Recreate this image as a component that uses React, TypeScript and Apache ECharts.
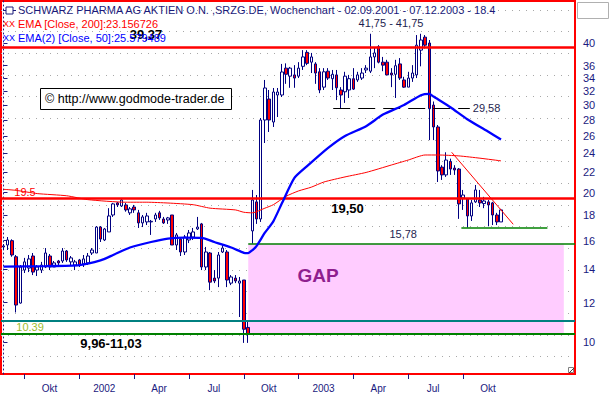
import React, { useEffect, useRef } from 'react';
import * as echarts from 'echarts';

// Weekly candles from 02.09.2001 to 07.12.2003 (week index 0..118)
const opens = [
  15.54, 15.68, 16.0, 14.85, 11.98, 13.96, 14.09, 14.9, 13.96, 13.96,
  14.16, 14.9, 14.16, 14.56, 14.56, 15.25, 14.5, 14.29, 14.63, 14.36,
  14.43, 15.11, 15.11, 17.04, 16.05, 16.66, 18.02, 19.06, 18.79, 18.88,
  18.2, 18.7, 18.2, 17.37, 17.45, 17.45, 17.69, 18.2, 17.69, 17.61,
  18.02, 15.68, 16.12, 15.18, 16.05, 16.27, 16.89, 17.29, 14.16, 15.11,
  13.45, 13.45, 15.18, 15.18, 13.14, 13.45, 13.14, 13.33, 10.7, 16.74,
  19.15, 17.69, 27.99, 30.85, 27.73, 31.43, 31.43, 35.6, 34.3, 34.5,
  34.3, 35.9, 38.3, 36.6, 36.3, 35.0, 32.6, 35.1, 33.9, 34.5,
  32.17, 31.9, 32.17, 33.9, 33.7, 34.0, 35.3, 35.1, 37.5, 39.3,
  36.6, 36.6, 34.8, 34.6, 36.3, 33.7, 32.6, 34.0, 34.5, 38.7,
  41.1, 40.0, 30.0, 27.1, 22.5, 21.7, 23.1, 22.4, 22.3, 19.5,
  19.4, 17.94, 19.15, 19.32, 19.0, 19.15, 19.06, 18.02, 17.45,
];
const closes = [
  15.61, 16.05, 14.97, 11.87, 14.16, 14.5, 14.7, 13.83, 14.16, 14.29,
  15.11, 14.16, 14.43, 14.43, 15.25, 14.63, 14.77, 14.5, 14.29, 14.7,
  14.9, 15.32, 17.04, 16.12, 16.89, 17.94, 18.97, 18.88, 19.32, 18.45,
  18.54, 18.45, 17.37, 17.86, 17.94, 17.5, 18.02, 17.78, 17.37, 17.78,
  15.68, 16.43, 15.18, 16.27, 16.58, 16.66, 17.04, 14.16, 15.18, 13.2,
  13.27, 14.97, 15.46, 13.33, 13.52, 13.27, 13.27, 10.61, 10.39, 19.32,
  17.69, 27.99, 32.47, 27.99, 31.87, 31.87, 34.97, 34.6, 35.6, 34.0,
  35.6, 37.5, 36.4, 37.5, 34.8, 32.17, 35.0, 34.0, 34.6, 32.5,
  31.43, 34.3, 33.9, 32.3, 34.5, 34.8, 35.6, 37.5, 38.2, 36.6,
  36.1, 34.5, 34.5, 36.0, 34.0, 32.6, 34.0, 34.8, 39.6, 40.56,
  39.6, 29.5, 27.1, 22.1, 21.7, 23.25, 22.3, 22.2, 18.97, 19.77,
  17.94, 19.06, 20.24, 19.06, 19.23, 18.88, 18.02, 17.45, 18.45,
];
const highs = [
  15.75, 16.27, 16.1, 14.97, 14.29, 14.77, 14.97, 15.11, 14.29, 14.5,
  15.46, 15.04, 14.56, 14.63, 15.46, 15.32, 14.9, 14.63, 14.7, 14.97,
  15.11, 15.46, 17.12, 17.12, 16.97, 18.6, 19.06, 19.15, 19.5, 19.06,
  18.7, 18.88, 18.45, 18.02, 18.2, 17.61, 18.2, 18.37, 17.86, 17.86,
  18.02, 16.58, 16.27, 16.43, 16.81, 16.97, 17.86, 17.37, 15.54, 15.18,
  13.96, 15.18, 15.68, 15.32, 13.64, 13.64, 13.52, 13.33, 11.03, 20.24,
  19.77, 28.25, 33.7, 32.17, 32.47, 32.47, 36.3, 36.4, 35.8, 36.1,
  36.6, 38.7, 38.7, 38.2, 36.6, 35.6, 35.6, 35.6, 35.3, 35.3,
  32.6, 35.0, 34.5, 35.6, 35.0, 35.6, 36.1, 41.75, 39.1, 39.6,
  37.5, 37.0, 35.6, 37.0, 37.3, 34.2, 35.0, 36.1, 41.5, 41.75,
  41.5, 40.56, 30.5, 27.35, 22.7, 24.1, 23.4, 22.7, 22.4, 20.24,
  19.5, 19.32, 20.71, 20.24, 19.6, 19.32, 19.15, 18.2, 18.54,
];
const lows = [
  15.32, 15.32, 14.85, 11.47, 11.95, 13.77, 13.83, 13.64, 13.58, 13.77,
  14.09, 13.96, 14.16, 14.29, 14.43, 14.5, 14.29, 13.96, 14.16, 14.16,
  14.29, 14.97, 15.11, 15.9, 15.97, 16.66, 17.86, 18.7, 18.7, 18.3,
  18.02, 18.2, 16.97, 17.04, 17.2, 16.43, 17.45, 17.61, 17.29, 17.29,
  15.68, 15.32, 14.9, 14.97, 15.82, 16.05, 16.81, 13.96, 13.96, 12.72,
  13.14, 12.9, 15.11, 12.9, 13.02, 13.14, 11.23, 9.96, 9.96, 15.78,
  17.29, 17.45, 25.16, 26.48, 27.1, 28.38, 31.14, 33.1, 32.5, 32.5,
  34.0, 35.3, 36.1, 34.8, 33.1, 31.7, 32.17, 33.7, 32.17, 30.7,
  29.58, 30.3, 31.0, 32.17, 33.4, 33.7, 34.8, 34.8, 35.6, 36.4,
  35.1, 34.5, 32.6, 31.0, 33.7, 32.5, 32.6, 33.4, 34.0, 35.9,
  39.0, 25.5, 25.5, 21.0, 21.2, 21.5, 21.7, 21.7, 17.7, 18.45,
  17.0, 17.53, 19.06, 18.7, 18.6, 17.1, 17.2, 17.2, 17.45,
];

// EMA readings [week index, value]
const ema200 = [
  [0, 20.3], [3, 20.2], [8, 19.9], [15, 19.7], [20, 19.35], [29, 19.12], [34, 19.12],
  [39, 19.05], [45, 18.9], [49, 18.6], [55, 18.45], [57, 18.25], [59, 18.2], [62, 18.6],
  [64, 18.9], [67, 19.65], [70, 20.15], [73, 20.5], [76, 21.0], [81, 21.5], [86, 21.95],
  [92, 22.72], [96, 23.25], [100, 23.8], [103, 23.8], [108, 23.7], [113, 23.45], [118, 23.16],
];
const ema50 = [
  [0, 14.19], [10, 14.22], [18, 14.29], [23, 14.6], [26, 14.97], [30, 15.5], [35, 15.9],
  [39, 16.15], [43, 16.22], [47, 16.2], [50, 15.9], [54, 15.5], [57, 15.12], [58, 15.1],
  [59, 15.3], [60, 15.6], [62, 16.6], [64, 17.5], [66, 19.0], [69, 21.4], [72, 22.6],
  [77, 24.6], [81, 26.0], [86, 27.2], [90, 28.7], [95, 30.0], [99, 31.4], [101, 31.6],
  [102, 31.2], [106, 29.7], [110, 28.1], [115, 26.5], [118, 25.58],
];

const yTickLabels = [40, 36, 34, 32, 30, 28, 26, 24, 22, 20, 18, 16, 14, 12, 10];
const xTickLabels = ['Okt', '2002', 'Apr', 'Jul', 'Okt', '2003', 'Apr', 'Jul', 'Okt'];
const quarterStartWeeks = [5, 18, 31, 44, 57, 70, 83, 96, 109];

// Levels
const resistance = 39.37;
const level1950 = 19.5;
const lowZoneTop = 11.03;
const lowZoneBottom = 10.39;
const gapTop = 15.78;
const gapBottom = 10.39;
const support = 17.0;
const neckline = 29.58;
const lastClose = 18.4;

const L = Math.log;
const NAVY = '#1a1a80';
const FONT = '"Liberation Sans", Arial, sans-serif';

export default function App() {
  const ref = useRef<HTMLDivElement>(null);
  useEffect(() => {
    const el = ref.current!;
    const chart = echarts.init(el, null, { renderer: 'svg' });
    const X_MIN = -0.593;
    const X_MAX = 135.55;
    const Y_MIN = 2.15434;
    const Y_MAX = 3.8836;
    const labelWeeks = quarterStartWeeks.map((w) => w + 5.9);
    const candleData = opens.map((o, i) => [i, L(o), L(closes[i]), L(lows[i]), L(highs[i])]);
    const txt = (name: string, x: number, v: number, style: any) => ({
      name,
      coord: [x, L(v)],
      label: { show: true, position: 'inside', formatter: '{b}', fontFamily: FONT, ...style },
    });

    const option: any = {
      animation: false,
      grid: [
        { left: 1, top: 1, width: 574, height: 373, show: true, borderColor: '#ff0000', borderWidth: 2, backgroundColor: 'transparent' },
        { left: 1, top: 10, width: 574, height: 346.7, show: false },
      ],
      xAxis: [
        {
          type: 'value', gridIndex: 0, min: X_MIN, max: X_MAX,
          axisLine: { show: false }, splitLine: { show: false },
          axisTick: { show: true, customValues: quarterStartWeeks, length: 5, lineStyle: { color: NAVY } },
          axisLabel: {
            customValues: labelWeeks, margin: 9, color: NAVY, fontSize: 10, fontFamily: FONT,
            formatter: (v: number) => {
              let best = 0;
              labelWeeks.forEach((w, k) => { if (Math.abs(w - v) < Math.abs(labelWeeks[best] - v)) best = k; });
              return xTickLabels[best];
            },
          },
        },
        { type: 'value', gridIndex: 1, min: 0, max: 1, show: false },
      ],
      yAxis: [
        {
          type: 'value', gridIndex: 0, position: 'right', min: Y_MIN, max: Y_MAX, offset: 3,
          axisLine: { show: true, lineStyle: { color: NAVY, type: [1, 3], width: 1 } },
          splitLine: { show: false },
          axisTick: { show: true, customValues: yTickLabels.map(L), length: 4, lineStyle: { color: NAVY } },
          axisLabel: {
            customValues: yTickLabels.map(L), margin: 5, color: NAVY, fontSize: 11, fontFamily: FONT,
            formatter: (v: number) => String(Math.round(Math.exp(v))),
          },
        },
        {
          type: 'value', gridIndex: 1, min: 0, max: 16, interval: 1, inverse: true,
          axisLine: { show: false }, axisTick: { show: false }, axisLabel: { show: false },
          splitLine: { show: true, lineStyle: { color: '#a8a8a8', type: [1, 6], width: 1 } },
        },
      ],
      series: [
        {
          type: 'line', xAxisIndex: 0, yAxisIndex: 0, data: [], z: 1, silent: true,
          markArea: {
            silent: true, itemStyle: { color: '#ffccff' },
            data: [[{ coord: [58.05, L(gapTop)] }, { coord: [132.9, L(gapBottom)] }]],
          },
        },
        {
          type: 'candlestick', xAxisIndex: 0, yAxisIndex: 0,
          dimensions: ['week', 'open', 'close', 'lowest', 'highest'],
          encode: { x: 0, y: [1, 2, 3, 4] },
          data: candleData, barWidth: 3, z: 3,
          itemStyle: { color: '#ffffff', color0: '#ff0000', borderColor: '#000080', borderColor0: '#000080', borderColorDoji: '#000080', borderWidth: 1 },
        },
        {
          type: 'line', xAxisIndex: 0, yAxisIndex: 0, data: [[0, L(15)]], z: 6, silent: true,
          symbol: 'none', lineStyle: { opacity: 0 },
          markLine: {
            silent: true, symbol: ['none', 'none'], label: { show: false },
            data: [
              { yAxis: L(resistance), lineStyle: { color: '#ff0000', width: 2.5, type: 'solid' } },
              { yAxis: L(level1950), lineStyle: { color: '#ff0000', width: 2.5, type: 'solid' } },
              { yAxis: L(lowZoneTop), lineStyle: { color: '#008080', width: 2, type: 'solid' } },
              { yAxis: L(lowZoneBottom), lineStyle: { color: '#008000', width: 2, type: 'solid' } },
              [{ coord: [58.05, L(gapTop)], lineStyle: { color: '#008000', width: 1.5, type: 'solid' } }, { coord: [X_MAX, L(gapTop)] }],
              [
                {
                  coord: [78.2, L(neckline)], lineStyle: { color: '#000000', width: 1, type: [17, 8] },
                  label: { show: true, position: 'end', distance: 3, formatter: '29,58', color: '#1e1e50', fontSize: 11, fontFamily: FONT },
                },
                { coord: [110.6, L(neckline)] },
              ],
              [{ coord: [108.6, L(support)], lineStyle: { color: '#008000', width: 1.5, type: 'solid' } }, { coord: [129, L(support)] }],
              [{ coord: [106.3, L(24.1)], lineStyle: { color: '#ff0000', width: 1, type: 'solid' } }, { coord: [120.9, L(17.26)] }],
              {
                yAxis: L(lastClose), lineStyle: { opacity: 0 },
                label: { show: true, position: 'end', distance: 3, formatter: '18.4', color: NAVY, fontSize: 11, fontFamily: FONT, backgroundColor: '#ffffe1', padding: [1, 8, 0, 5] },
              },
            ],
          },
          markPoint: {
            silent: true, symbol: 'rect', symbolSize: 1, itemStyle: { color: 'rgba(0,0,0,0)' },
            data: [
              txt('39,37', 33.8, 41.53, { color: '#000', fontSize: 13, fontWeight: 'bold' }),
              txt('19,50', 81.6, 18.61, { color: '#000', fontSize: 13, fontWeight: 'bold' }),
              txt('9,96-11,03', 25.5, 9.91, { color: '#000', fontSize: 13, fontWeight: 'bold' }),
              txt('41,75 - 41,75', 91.9, 43.89, { color: '#1e1e50', fontSize: 11 }),
              txt('15,78', 94.8, 16.51, { color: '#1e1e50', fontSize: 11 }),
              txt('GAP', 74.6, 13.61, { color: '#8f1f8f', fontSize: 19, fontWeight: 'bold' }),
              txt('19.5', 5.1, 20.09, { color: '#ff0000', fontSize: 11 }),
              txt('10.39', 6.3, 10.74, { color: '#9cbc2c', fontSize: 11 }),
            ],
          },
        },
        {
          type: 'line', xAxisIndex: 0, yAxisIndex: 0, z: 7, silent: true,
          data: ema200.map(([i, v]) => [i, L(v)]), symbol: 'none', smooth: 0.2,
          lineStyle: { color: '#ff0000', width: 1 },
        },
        {
          type: 'line', xAxisIndex: 0, yAxisIndex: 0, z: 8, silent: true,
          data: ema50.map(([i, v]) => [i, L(v)]), symbol: 'none', smooth: 0.2,
          lineStyle: { color: '#0000ff', width: 2.3 },
        },
      ],
      graphic: [
        { type: 'rect', shape: { x: 6, y: 7, width: 7, height: 7 }, style: { fill: '#fff', stroke: '#1a1a7a', lineWidth: 1 }, z: 10 },
        { type: 'line', shape: { x1: 3, y1: 10.5, x2: 16, y2: 10.5 }, style: { stroke: '#1a1a7a', lineWidth: 1 }, z: 9 },
        { type: 'text', x: 18, y: 10, style: { text: 'SCHWARZ PHARMA AG AKTIEN O.N. ,SRZG.DE, Wochenchart - 02.09.2001 - 07.12.2003 - 18.4', fill: '#1a1a7a', font: `11px ${FONT}`, verticalAlign: 'middle' }, z: 10 },
        { type: 'text', x: 3, y: 24, style: { text: 'XX', fill: '#ff0000', font: `9px ${FONT}`, verticalAlign: 'middle' }, z: 10 },
        { type: 'text', x: 18, y: 24, style: { text: 'EMA [Close, 200]:23.156726', fill: '#ff0000', font: `11px ${FONT}`, verticalAlign: 'middle' }, z: 10 },
        { type: 'text', x: 3, y: 38, style: { text: 'XX', fill: '#0000ff', font: `9px ${FONT}`, verticalAlign: 'middle' }, z: 10 },
        { type: 'text', x: 18, y: 38, style: { text: 'EMA(2) [Close, 50]:25.579489', fill: '#0000ff', font: `11px ${FONT}`, verticalAlign: 'middle' }, z: 10 },
        { type: 'rect', shape: { x: 40.5, y: 88.5, width: 191, height: 21 }, style: { fill: '#ffffff', stroke: '#000000', lineWidth: 1 }, z: 10 },
        { type: 'text', x: 45, y: 99, style: { text: '© http://www.godmode-trader.de', fill: '#000000', font: `12.5px ${FONT}`, verticalAlign: 'middle' }, z: 11 },
        { type: 'rect', shape: { x: 577.5, y: 2.5, width: 31, height: 16 }, style: { fill: '#ffffff', stroke: '#b0b0b0', lineWidth: 1 }, z: 10 },
        { type: 'rect', shape: { x: 568.5, y: 367.5, width: 5, height: 5 }, style: { fill: '#ffffff', stroke: '#808080', lineWidth: 1 }, z: 10 },
        { type: 'line', shape: { x1: 569, y1: 373, x2: 574, y2: 368 }, style: { stroke: '#404040', lineWidth: 1 }, z: 11 },
      ],
    };
    chart.setOption(option);
    return () => chart.dispose();
  }, []);
  return <div ref={ref} style={{ position: 'fixed', left: 0, top: 0, width: 609, height: 397, background: '#ffffff' }} />;
}
